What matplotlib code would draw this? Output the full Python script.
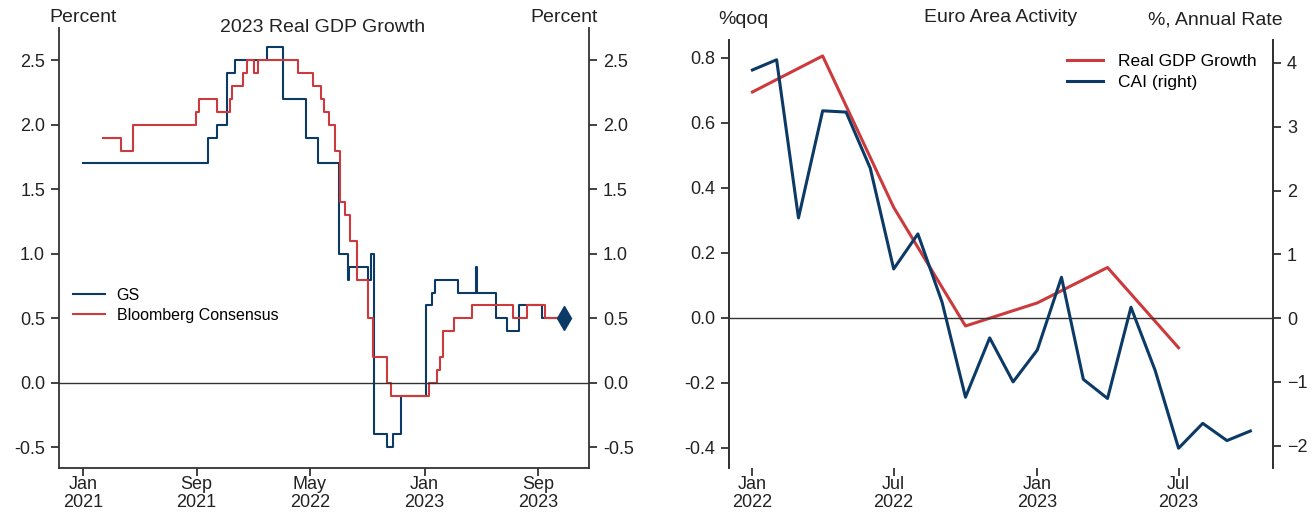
import matplotlib
matplotlib.use("Agg")
import matplotlib.pyplot as plt
import numpy as np

plt.rcParams['font.family'] = ['Liberation Sans', 'DejaVu Sans']

NAVY = '#0c3a66'
RED = '#cc3a3d'
DARK = '#333333'

# left panel: 2023 real GDP growth forecasts (step series, change dates)
gs_dates = ['2021-01-01', '2021-09-25', '2021-10-14', '2021-11-05', '2021-11-22',
            '2022-01-29', '2022-03-04', '2022-04-22', '2022-05-18', '2022-07-02',
            '2022-07-21', '2022-07-23', '2022-09-02', '2022-09-08', '2022-09-15',
            '2022-10-13', '2022-10-25', '2022-11-11', '2023-01-04', '2023-01-17',
            '2023-01-23', '2023-03-13', '2023-04-20', '2023-04-22', '2023-06-02',
            '2023-06-26', '2023-07-22', '2023-09-09', '2023-10-13']
gs_values = [1.7, 1.9, 2.0, 2.4, 2.5,
             2.6, 2.2, 1.9, 1.7, 1.0,
             0.8, 0.9, 0.8, 1.0, -0.4,
             -0.5, -0.4, -0.1, 0.6, 0.7,
             0.8, 0.7, 0.9, 0.7, 0.5,
             0.4, 0.6, 0.5, 0.5]

bb_dates = ['2021-02-13', '2021-03-23', '2021-04-18', '2021-08-30', '2021-09-06',
            '2021-10-14', '2021-11-11', '2021-11-15', '2021-12-09', '2021-12-17',
            '2022-01-01', '2022-01-10', '2022-04-05', '2022-05-07', '2022-05-25',
            '2022-05-30', '2022-06-10', '2022-06-24', '2022-07-04', '2022-07-15',
            '2022-07-26', '2022-08-09', '2022-09-02', '2022-09-13', '2022-10-13',
            '2022-10-21', '2023-01-10', '2023-01-27', '2023-02-03', '2023-02-09',
            '2023-03-05', '2023-04-12', '2023-07-09', '2023-08-08', '2023-09-15',
            '2023-10-13']
bb_values = [1.9, 1.8, 2.0, 2.1, 2.2,
             2.1, 2.2, 2.3, 2.4, 2.5,
             2.4, 2.5, 2.4, 2.3, 2.2,
             2.1, 2.0, 1.8, 1.4, 1.3,
             1.1, 0.8, 0.5, 0.2, 0.0,
             -0.1, 0.0, 0.1, 0.2, 0.4,
             0.5, 0.6, 0.5, 0.6, 0.5,
             0.5]

gs_latest_date = '2023-10-26'
gs_latest_value = 0.5

left_ticks = ['2021-01-01', '2021-09-01', '2022-05-01', '2023-01-01', '2023-09-01']
left_ticklabels = ['Jan\n2021', 'Sep\n2021', 'May\n2022', 'Jan\n2023', 'Sep\n2023']

# right panel: euro area activity
gdp_dates = ['2022-01-01', '2022-04-01', '2022-07-01', '2022-10-01',
             '2023-01-01', '2023-04-01', '2023-07-01']
gdp_values = [0.695, 0.806, 0.34, -0.025, 0.046, 0.155, -0.092]

cai_dates = ['2022-01-01', '2022-02-01', '2022-03-01', '2022-04-01', '2022-05-01',
             '2022-06-01', '2022-07-01', '2022-08-01', '2022-09-01', '2022-10-01',
             '2022-11-01', '2022-12-01', '2023-01-01', '2023-02-01', '2023-03-01',
             '2023-04-01', '2023-05-01', '2023-06-01', '2023-07-01', '2023-08-01',
             '2023-09-01', '2023-10-01']
cai_values = [3.89, 4.05, 1.57, 3.25, 3.23,
              2.35, 0.77, 1.32, 0.25, -1.24,
              -0.31, -1.0, -0.5, 0.64, -0.96,
              -1.26, 0.17, -0.82, -2.04, -1.65,
              -1.92, -1.77]

right_ticks = ['2022-01-01', '2022-07-01', '2023-01-01', '2023-07-01']
right_ticklabels = ['Jan\n2022', 'Jul\n2022', 'Jan\n2023', 'Jul\n2023']


def d(lst):
    return np.array(lst, dtype='datetime64[D]')


fig = plt.figure(figsize=(13.15, 5.14), dpi=100)
W, H = 1315, 514

# ---------- left panel ----------
ax1 = fig.add_axes([59 / W, 1 - 468 / H, 530 / W, 440 / H])
ax1.plot(d(gs_dates), gs_values, drawstyle='steps-post', color=NAVY, lw=1.5, label='GS')
ax1.plot(d(bb_dates), bb_values, drawstyle='steps-post', color=RED, lw=1.5,
         label='Bloomberg Consensus')
ax1.plot(d([gs_latest_date]), [gs_latest_value], marker='d', color=NAVY, ms=12, ls='none')
ax1.axhline(0, color=DARK, lw=1)
ax1.set_xlim(np.datetime64('2020-11-11'), np.datetime64('2023-12-18'))
ax1.set_ylim(-0.66, 2.75)
ax1.set_yticks([-0.5, 0.0, 0.5, 1.0, 1.5, 2.0, 2.5])
ax1.yaxis.set_major_formatter(matplotlib.ticker.FormatStrFormatter('%.1f'))
ax1.set_xticks(d(left_ticks))
ax1.set_xticklabels(left_ticklabels, linespacing=1.05)
ax1.tick_params(right=True, labelright=True)
ax1.spines['top'].set_visible(False)
ax1.legend(loc='center left', bbox_to_anchor=(0.026, 0.37), frameon=False,
           fontsize=11.5, borderaxespad=0, borderpad=0, handlelength=2.0,
           handletextpad=0.75, labelspacing=0.3)

fig.text(83 / W, 1 - 18 / H, 'Percent', ha='center', va='center', fontsize=14, color='#222')
fig.text(564 / W, 1 - 18 / H, 'Percent', ha='center', va='center', fontsize=14, color='#222')
fig.text(323 / W, 1 - 27 / H, '2023 Real GDP Growth', ha='center', va='center',
         fontsize=14, color='#222')

# ---------- right panel ----------
ax2 = fig.add_axes([729 / W, 1 - 468 / H, 544 / W, 428 / H])
ax3 = ax2.twinx()
ax2.plot(d(gdp_dates), gdp_values, color=RED, lw=2.2, label='Real GDP Growth')
ax3.plot(d(cai_dates), cai_values, color=NAVY, lw=2.2, label='CAI (right)')
ax2.axhline(0, color=DARK, lw=1)
ax2.set_xlim(np.datetime64('2021-12-02'), np.datetime64('2023-10-30'))
ax2.set_ylim(-0.462, 0.855)
ax3.set_ylim(-2.35, 4.36)
ax2.set_yticks([-0.4, -0.2, 0.0, 0.2, 0.4, 0.6, 0.8])
ax2.yaxis.set_major_formatter(matplotlib.ticker.FormatStrFormatter('%.1f'))
ax3.set_yticks([-2, -1, 0, 1, 2, 3, 4])
ax2.set_xticks(d(right_ticks))
ax2.set_xticklabels(right_ticklabels, linespacing=1.05)
for a in (ax2, ax3):
    a.spines['top'].set_visible(False)
    a.spines['bottom'].set_visible(False)
h1, l1 = ax2.get_legend_handles_labels()
h2, l2 = ax3.get_legend_handles_labels()
ax3.legend(h1 + h2, l1 + l2, loc='center left', bbox_to_anchor=(0.621, 0.925),
           frameon=False, fontsize=12.5, borderaxespad=0, borderpad=0,
           handlelength=2.07, handletextpad=0.86, labelspacing=0.3)

fig.text(743 / W, 1 - 20 / H, '%qoq', ha='center', va='center', fontsize=14, color='#222')
fig.text(1001 / W, 1 - 18 / H, 'Euro Area Activity', ha='center', va='center',
         fontsize=14, color='#222')
fig.text(1215 / W, 1 - 20 / H, '%, Annual Rate', ha='center', va='center',
         fontsize=14, color='#222')

for a in (ax1, ax2, ax3):
    for s in a.spines.values():
        s.set_color(DARK)
        s.set_linewidth(1.3)
    a.tick_params(direction='out', length=6, width=1.3, colors=DARK,
                  labelsize=13, labelcolor='#222', pad=4)
    a.tick_params(axis='x', pad=0)

fig.savefig('out.png', dpi=100)
